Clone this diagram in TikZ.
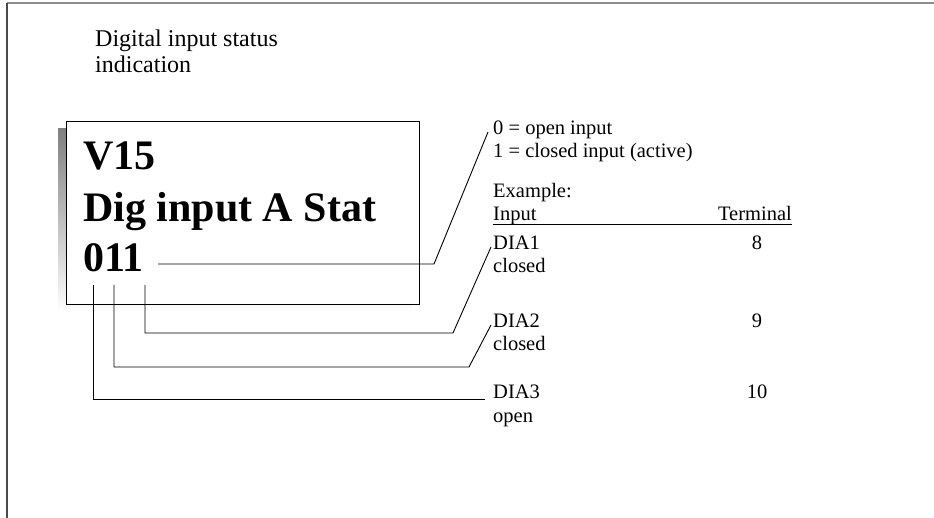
\documentclass[tikz,border=0pt]{standalone}
\usepackage{fontspec}
\setmainfont{Liberation Serif}
\usepackage{tikz}
\usetikzlibrary{positioning,backgrounds}
\definecolor{shade}{HTML}{A7A9AC}
\definecolor{framegray}{HTML}{8C8C8C}
\definecolor{frameink}{HTML}{4A4A4A}
\tikzset{
  lbl/.style   ={inner sep=0pt,anchor=base west,font=\fontsize{20.5}{23}\selectfont},
  head/.style  ={inner sep=0pt,anchor=base west,font=\fontsize{24}{27}\selectfont},
  big/.style   ={inner sep=0pt,anchor=base west,font=\fontsize{42}{50}\selectfont\bfseries},
  panel/.style ={draw,line width=1pt,fill=white,anchor=north west,
                 minimum width=353pt,minimum height=183pt,inner sep=0pt},
  tap/.style   ={line width=0.9pt,draw=black}
}

\begin{document}
\begin{tikzpicture}[x=1pt,y=-1pt]
    \useasboundingbox (0,0) rectangle (934,518);
    \draw[framegray,line width=1.6pt] (7,3) -- (934,3);
    \draw[frameink,line width=1.6pt] (7,3) -- (7,518);
    % title
    \node[head] (ttl1) at (95,47) {Digital input status};
    \node[head] (ttl2) at (95,73) {indication};
    % display panel
    \node[panel] (disp) at (66,121) {};
    \begin{scope}[on background layer]
      \fill[shade] ([shift={(-8,8)}]disp.north west) rectangle ([shift={(-8,8)}]disp.south east);
    \end{scope}
    \node[big] (v15) at (83,170) {V15};
    \node[big] (dig) at (83,222) {Dig input A Stat};
    \node[big] (val) at (83,272) {011};
    \coordinate (v0) at (158,264);
    \coordinate (b0) at (93,285);
    \coordinate (b1) at (114,285);
    \coordinate (b2) at (145,285);
    % legend
    \node[lbl] (key0) at (493,135) {0 = open input};
    \node[lbl] (key1) at (493,158) {1 = closed input (active)};
    \node[lbl] (ex) at (493,198) {Example:};
    \node[lbl] (inp) at (493,221) {Input};
    \node[lbl,anchor=base east] (term) at (792,221) {Terminal};
    \draw[line width=0.8pt] ([yshift=-3pt]inp.base west) -- ([yshift=-3pt]term.base east);
    \node[lbl] (dia1) at (493,250) {DIA1};
    \node[lbl] (st1) at (493,273) {closed};
    \node[lbl] (dia2) at (493,328) {DIA2};
    \node[lbl] (st2) at (493,351) {closed};
    \node[lbl] (dia3) at (493,399) {DIA3};
    \node[lbl] (st3) at (493,422) {open};
    \node[lbl,anchor=base] (t8) at (757,250) {8};
    \node[lbl,anchor=base] (t9) at (757,328) {9};
    \node[lbl,anchor=base] (t10) at (757,399) {10};
    % connectors
    \draw[tap] (v0) -- (434,264) -- ([shift={(-5,-3)}]key0.base west);
    \draw[tap] (b2) |- (453,333) -- ([shift={(-2,-3)}]dia1.base west);
    \draw[tap] (b1) |- (469,367) -- ([shift={(-2,-3)}]dia2.base west);
    \draw[tap] (b0) |- ([xshift=-8pt]dia3.base west);
\end{tikzpicture}
\end{document}
